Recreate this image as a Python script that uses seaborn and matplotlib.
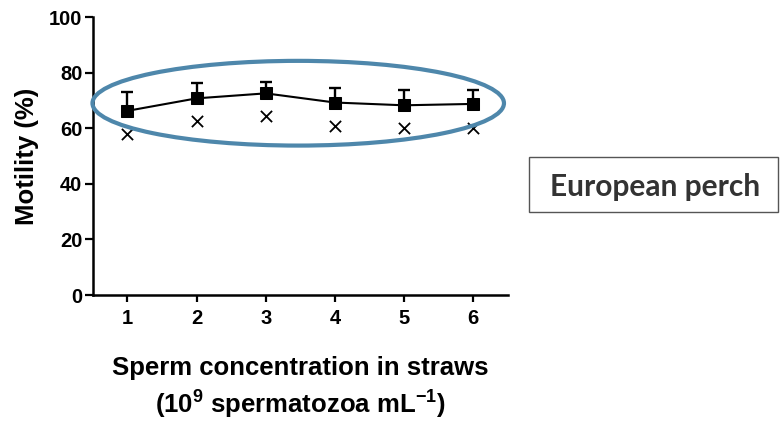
import matplotlib
matplotlib.use("Agg")
import matplotlib.pyplot as plt
from matplotlib.patches import Ellipse
import numpy as np
import pandas as pd
import seaborn as sns

# Sperm concentration groups (x 10^9 spermatozoa per mL)
concentration = [1, 2, 3, 4, 5, 6]
# Motility after thawing: mean and upper SD
motility_mean = [66.3, 70.8, 72.6, 69.3, 68.3, 68.8]
motility_sd = [6.9, 5.7, 4.0, 5.1, 5.4, 5.1]
# Second motility measure shown as crosses
motility_x = [57.8, 62.8, 64.6, 61.0, 60.0, 60.3]

y_ticks = [0, 20, 40, 60, 80, 100]
species_label = "European perch"

df = pd.DataFrame({"conc": concentration, "mean": motility_mean,
                   "sd": motility_sd, "cross": motility_x})

sns.set_theme(style="ticks")
plt.rcParams["font.family"] = ["Liberation Sans", "DejaVu Sans"]
plt.rcParams["font.weight"] = "bold"
plt.rcParams["text.color"] = "black"
plt.rcParams["axes.labelcolor"] = "black"
plt.rcParams["xtick.color"] = "black"
plt.rcParams["ytick.color"] = "black"
plt.rcParams["mathtext.fontset"] = "custom"
plt.rcParams["mathtext.rm"] = "Liberation Sans:bold"
plt.rcParams["mathtext.bf"] = "Liberation Sans:bold"
plt.rcParams["mathtext.it"] = "Liberation Sans:bold"

fig = plt.figure(figsize=(7.8, 4.26), dpi=100)
ax = fig.add_axes([0.119, 0.3075, 0.532, 0.652])

# upward-only error bars
ax.errorbar(df["conc"], df["mean"], yerr=[np.zeros(len(df)), df["sd"]],
            fmt="none", ecolor="black", elinewidth=1.7, capsize=4.0,
            capthick=1.7, zorder=3)
sns.lineplot(data=df, x="conc", y="mean", ax=ax, color="black",
             linewidth=1.5, marker="s", markersize=8, markeredgecolor="black",
             markerfacecolor="black", zorder=4)
sns.scatterplot(data=df, x="conc", y="cross", ax=ax, marker="x",
                color="black", s=65, linewidth=1.3, zorder=4)

# highlight around the mean series
x_c = (min(concentration) + max(concentration)) / 2 - 0.03
y_c = np.mean(motility_mean) - 0.3
ell = Ellipse((x_c, y_c), width=5.95, height=30.5, fill=False,
              edgecolor="#4E87AB", linewidth=3.0, clip_on=False, zorder=5)
ax.add_patch(ell)

ax.set_xlim(0.5, 6.5)
ax.set_ylim(0, 100)
ax.set_xticks(concentration)
ax.set_yticks(y_ticks)
ax.tick_params(axis="y", labelsize=14.5, width=1.6, length=5.5, pad=2)
ax.tick_params(axis="x", labelsize=14.5, width=1.6, length=5, pad=5)
for lab in ax.get_xticklabels() + ax.get_yticklabels():
    lab.set_fontweight("bold")
for side in ["left", "bottom"]:
    ax.spines[side].set_linewidth(1.8)
    ax.spines[side].set_color("black")
sns.despine(ax=ax)

ax.set_ylabel("Motility (%)", fontsize=18.5, fontweight="bold", labelpad=7)
ax.set_xlabel("Sperm concentration in straws\n(10$^{9}$ spermatozoa mL$^{-1}$)",
              fontsize=18.5, fontweight="bold", labelpad=20, linespacing=1.35)

fig.text(550 / 780, 0.5616, species_label, fontsize=21.5,
         fontweight="bold", color="#333333", family=["Lato", "DejaVu Sans"],
         ha="left", va="center")
box = plt.Rectangle((529 / 780, 1 - 212 / 426), 249 / 780, 55 / 426,
                    transform=fig.transFigure, fill=False, edgecolor="#555555",
                    linewidth=1.0)
fig.add_artist(box)

fig.savefig("out.png", dpi=100, facecolor="white")
